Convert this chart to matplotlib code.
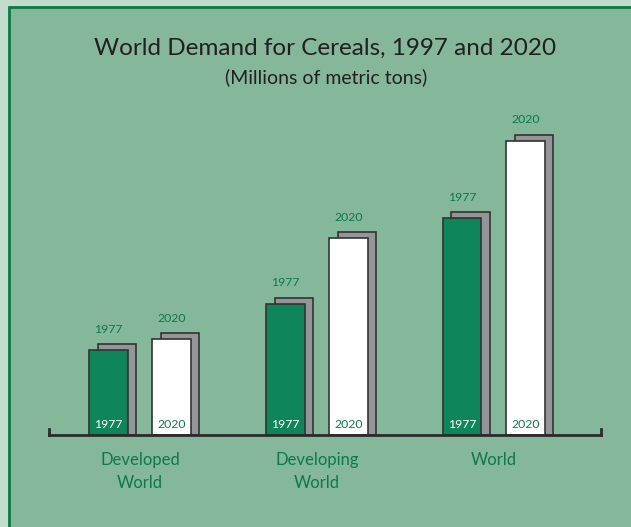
import matplotlib.pyplot as plt
from matplotlib.patches import Rectangle
import numpy as np

plt.rcParams['font.family'] = ['Lato', 'DejaVu Sans']

regions = ["Developed\nWorld", "Developing\nWorld", "World"]
years = ["1977", "2020"]
demand_1977 = [720, 1115, 1845]
demand_2020 = [815, 1675, 2500]

panel = "#85b79a"
light = "#c1dccd"
border = "#0a7a44"
bar_green = "#0e8659"
text_green = "#0c7a48"
shadow = "#949598"
edge = "#333333"

W, H = 631, 527
fig = plt.figure(figsize=(W / 100, H / 100), dpi=100)
fig.patch.set_facecolor(light)
fig.patches.append(Rectangle((8.5 / W, -0.1), 1.2, 1.1 - 6.5 / H,
                             transform=fig.transFigure, facecolor=panel,
                             edgecolor=border, linewidth=2.0, zorder=-1))

fig.text(0.515, 1 - 48 / H, "World Demand for Cereals, 1997 and 2020",
         ha="center", va="center", fontsize=17.5, color="#231f20")
fig.text(0.517, 1 - 77 / H, "(Millions of metric tons)",
         ha="center", va="center", fontsize=14, color="#231f20")

ax = fig.add_axes([49 / W, 92 / H, 552 / W, 335 / H])
ax.set_facecolor("none")
ax.set_xlim(-0.514, 2.605)
ax.set_ylim(0, 2847)

x = np.arange(len(regions))
off = 0.179
bw = 0.2175
dx = 0.048
dy = 51

for vals, sign, face, lab_col in [(demand_1977, -1, bar_green, "white"),
                                  (demand_2020, 1, "white", text_green)]:
    pos = x + sign * off
    yr = years[0] if sign < 0 else years[1]
    ax.bar(pos + dx, np.array(vals) + dy, width=bw, color=shadow,
           edgecolor=edge, linewidth=1.2, zorder=2)
    ax.bar(pos, vals, width=bw, color=face, edgecolor=edge,
           linewidth=1.2, zorder=3)
    for p, v in zip(pos, vals):
        ax.annotate(yr, (p, v), xytext=(0, 15), textcoords="offset points",
                    ha="center", va="center", fontsize=8.8, color=text_green)
        ax.annotate(yr, (p, 0), xytext=(0, 7.5), textcoords="offset points",
                    ha="center", va="center", fontsize=8.8, color=lab_col,
                    zorder=4)

for s in ["top"]:
    ax.spines[s].set_visible(False)
for s in ["left", "right", "bottom"]:
    ax.spines[s].set_color("#2b2b2b")
    ax.spines[s].set_linewidth(2.0)
    ax.spines[s].set_zorder(5)
ax.spines["left"].set_bounds(0, 55)
ax.spines["right"].set_bounds(0, 55)

ax.set_yticks([])
ax.set_xticks(x)
ax.set_xticklabels(regions, fontsize=12, color=text_green, linespacing=1.5)
ax.tick_params(axis="x", length=0, pad=12.5)

fig.savefig("out.png", dpi=100, facecolor=fig.get_facecolor())
